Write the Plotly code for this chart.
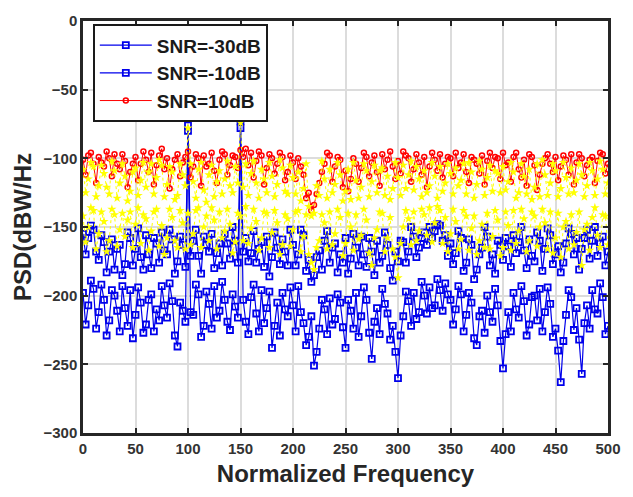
import plotly.graph_objects as go

# Samples at x = 0, 5, 10, ... 500
freq_main = [5 * i for i in range(101)]
# Samples at x = 2.5, 7.5, ... 497.5
freq_mid = [5 * i + 2.5 for i in range(100)]

snr_m30 = [-198, -207, -195, -212, -203, -218, -200, -226, -209, -196,
           -214, -205, -221, -199, -210, -193, -216, -204, -237, -211,
           -80, -214, -199, -222, -206, -193, -211, -203, -225, -208,
           -78, -219, -201, -213, -196, -209, -238, -205, -198, -215,
           -207, -193, -220, -230, -251, -224, -210, -202, -217, -205,
           -238, -211, -198, -215, -203, -246, -209, -195, -213, -222,
           -260, -215, -204, -198, -212, -200, -194, -207, -196, -191,
           -203, -210, -199, -214, -205, -236, -211, -200, -219, -207,
           -253, -212, -198, -216, -204, -221, -200, -195, -212, -206,
           -224, -263, -214, -201, -209, -257, -207, -196, -213, -201,
           -222]
snr_m30_mid = [-221, -189, -224, -192, -229, -196, -211, -193, -222, -231,
               -194, -227, -203, -226, -218, -207, -191, -229, -205, -219,
               -212, -192, -230, -197, -224, -216, -190, -219, -199, -216,
               -203, -228, -192, -226, -220, -197, -222, -229, -210, -194,
               -226, -212, -236, -215, -241, -203, -228, -221, -199, -223,
               -203, -224, -230, -194, -227, -219, -228, -206, -232, -241,
               -229, -197, -222, -217, -190, -213, -209, -188, -211, -199,
               -221, -193, -226, -198, -231, -215, -227, -212, -195, -233,
               -228, -226, -210, -193, -229, -201, -218, -226, -194, -230,
               -240, -233, -196, -225, -232, -220, -224, -210, -191, -228]

snr_m10 = [-155, -158, -152, -174, -161, -168, -181, -163, -177, -158,
           -166, -172, -156, -180, -162, -154, -170, -159, -175, -163,
           -76, -160, -171, -157, -168, -180, -162, -155, -173, -160,
           -73, -158, -169, -176, -161, -157, -172, -165, -159, -178,
           -163, -170, -156, -174, -185, -167, -160, -176, -162, -170,
           -158, -173, -165, -157, -179, -168, -160, -171, -163, -189,
           -175, -161, -168, -157, -165, -154, -150, -153, -149, -156,
           -162, -169, -158, -176, -163, -181, -165, -157, -170, -160,
           -174, -164, -156, -161, -167, -159, -175, -160, -166, -156,
           -170, -183, -162, -155, -158, -166, -152, -160, -171, -157,
           -168]
snr_m10_mid = [-170, -149, -168, -156, -183, -159, -166, -185, -154, -178,
               -151, -181, -170, -158, -176, -167, -152, -184, -157, -179,
               -171, -152, -184, -163, -155, -169, -178, -162, -150, -176,
               -168, -175, -153, -166, -179, -186, -154, -177, -168, -152,
               -178, -152, -182, -190, -172, -181, -153, -165, -183, -176,
               -184, -155, -178, -170, -158, -185, -176, -154, -180, -168,
               -160, -176, -150, -172, -158, -163, -158, -148, -160, -171,
               -177, -153, -182, -159, -188, -170, -150, -178, -184, -163,
               -158, -179, -169, -150, -180, -171, -154, -182, -151, -177,
               -164, -176, -151, -170, -181, -158, -173, -150, -162, -178]

snr_p10 = [-101, -98, -104, -99, -106, -100, -97, -108, -102, -110,
           -99, -104, -101, -96, -105, -93, -100, -108, -97, -103,
           -95, -106, -100, -98, -104, -109, -101, -97, -105, -99,
           -94, -93, -96, -102, -98, -107, -100, -104, -99, -110,
           -103, -100, -112, -125, -134, -118, -104, -98, -106, -101,
           -109, -115, -104, -107, -99, -103, -110, -97, -101, -106,
           -102, -95, -100, -108, -103, -99, -106, -101, -97, -104,
           -100, -96, -103, -110, -99, -104, -98, -102, -107, -100,
           -96, -103, -99, -108, -101, -97, -105, -112, -100, -104,
           -99, -106, -101, -97, -103, -100, -105, -99, -102, -97,
           -104]
snr_p10_mid = [-112, -96, -118, -103, -95, -113, -104, -97, -121, -104,
               -116, -95, -110, -119, -98, -108, -122, -101, -113, -99,
               -114, -97, -120, -106, -96, -118, -95, -112, -98, -107,
               -99, -105, -114, -95, -119, -97, -111, -96, -116, -98,
               -115, -106, -129, -138, -126, -110, -96, -117, -99, -121,
               -124, -100, -117, -96, -113, -98, -120, -108, -95, -115,
               -111, -98, -117, -97, -112, -121, -96, -109, -114, -99,
               -113, -107, -97, -118, -101, -111, -119, -96, -99, -115,
               -105, -117, -96, -114, -120, -99, -123, -104, -97, -110,
               -116, -98, -112, -119, -97, -113, -101, -118, -96, -111]

yellow_hi = [-108, -115, -106, -120, -111, -126, -109, -118, -113, -124,
             -107, -116, -121, -104, -114, -105, -119, -110, -127, -112,
             -78, -117, -108, -123, -112, -128, -109, -115, -120, -106,
             -74, -104, -111, -118, -108, -125, -113, -119, -107, -126,
             -114, -110, -122, -135, -140, -127, -115, -108, -119, -112,
             -124, -130, -116, -121, -109, -117, -125, -107, -113, -122,
             -114, -105, -112, -123, -115, -109, -120, -113, -106, -118,
             -111, -107, -116, -126, -110, -119, -108, -114, -124, -111,
             -106, -117, -110, -125, -113, -108, -121, -128, -112, -118,
             -109, -122, -114, -107, -116, -112, -120, -109, -115, -108,
             -118]
yellow_hi_mid = [-125, -103, -128, -105, -121, -102, -129, -104, -131, -110,
                 -127, -103, -110, -126, -101, -128, -106, -130, -104, -120,
                 -104, -129, -103, -132, -105, -117, -126, -102, -125, -118,
                 -121, -127, -102, -129, -115, -103, -128, -101, -124, -105,
                 -126, -131, -104, -142, -120, -102, -129, -125, -103, -131,
                 -108, -103, -129, -104, -128, -105, -109, -127, -130, -103,
                 -127, -122, -102, -106, -128, -125, -103, -129, -124, -104,
                 -126, -120, -104, -103, -129, -102, -127, -105, -109, -125,
                 -123, -103, -129, -104, -126, -130, -104, -101, -127, -104,
                 -128, -103, -126, -125, -104, -128, -103, -127, -102, -126]

yellow_lo = [-142, -150, -138, -155, -146, -160, -141, -152, -157, -139,
             -148, -162, -144, -153, -137, -149, -158, -143, -165, -147,
             -140, -155, -136, -150, -160, -145, -139, -153, -148, -161,
             -142, -135, -151, -146, -158, -140, -154, -147, -163, -144,
             -152, -138, -157, -170, -181, -160, -147, -139, -155, -143,
             -162, -150, -141, -156, -145, -178, -152, -140, -158, -166,
             -187, -150, -144, -139, -153, -141, -136, -147, -138, -143,
             -155, -146, -159, -142, -151, -170, -148, -140, -157, -145,
             -165, -149, -138, -153, -144, -160, -142, -150, -147, -139,
             -158, -172, -146, -141, -154, -178, -148, -143, -156, -141,
             -163]
yellow_lo_mid = [-161, -136, -166, -139, -168, -137, -164, -140, -145, -165,
                 -136, -141, -167, -139, -164, -170, -137, -160, -138, -166,
                 -163, -138, -165, -142, -136, -166, -158, -137, -169, -140,
                 -160, -162, -137, -167, -139, -165, -138, -170, -141, -164,
                 -139, -168, -141, -176, -165, -141, -166, -163, -137, -171,
                 -140, -167, -159, -137, -169, -158, -139, -168, -143, -172,
                 -162, -138, -163, -160, -137, -156, -161, -135, -162, -168,
                 -137, -166, -138, -167, -142, -160, -165, -166, -138, -171,
                 -139, -167, -162, -137, -168, -139, -164, -137, -166, -169,
                 -140, -150, -166, -163, -139, -152, -167, -136, -165, -142]

x_ticks = [0, 50, 100, 150, 200, 250, 300, 350, 400, 450, 500]
y_ticks = [-300, -250, -200, -150, -100, -50, 0]


def merge(main_vals, mid_vals):
    xs, ys = [], []
    for i in range(len(main_vals)):
        xs.append(freq_main[i]); ys.append(main_vals[i])
        if i < len(mid_vals):
            xs.append(freq_mid[i]); ys.append(mid_vals[i])
    return xs, ys


BLUE = "rgb(0,0,235)"
RED = "rgb(255,0,0)"
YELLOW = "rgb(255,255,0)"
FONT = "Liberation Sans, Arial, sans-serif"

fig = go.Figure()

xa, ya = merge(snr_m30, snr_m30_mid)
xb, yb = merge(snr_m10, snr_m10_mid)
xc, yc = merge(snr_p10, snr_p10_mid)
xh, yh = merge(yellow_hi, yellow_hi_mid)
xl, yl = merge(yellow_lo, yellow_lo_mid)

fig.add_trace(go.Scatter(
    x=xa, y=ya, mode="lines+markers", name="SNR=-30dB",
    line=dict(color=BLUE, width=1.2),
    marker=dict(symbol="square-open", size=6, color=BLUE, line=dict(width=1.8)),
    legendgroup="a"))
fig.add_trace(go.Scatter(
    x=xb, y=yb, mode="lines+markers", name="SNR=-10dB",
    line=dict(color=BLUE, width=1.2),
    marker=dict(symbol="square-open", size=6, color=BLUE, line=dict(width=1.8)),
    legendgroup="b"))
fig.add_trace(go.Scatter(
    x=xc, y=yc, mode="lines+markers", name="SNR=10dB",
    line=dict(color=RED, width=1),
    marker=dict(symbol="circle-open", size=5, color=RED, line=dict(width=1.5)),
    legendgroup="c"))
fig.add_trace(go.Scatter(
    x=xl, y=yl, mode="lines+markers", showlegend=False,
    line=dict(color=YELLOW, width=1, dash="dot"),
    marker=dict(symbol="star", size=7, color=YELLOW)))
fig.add_trace(go.Scatter(
    x=xh, y=yh, mode="lines+markers", showlegend=False,
    line=dict(color=YELLOW, width=1, dash="dot"),
    marker=dict(symbol="star", size=7, color=YELLOW)))

axis_common = dict(
    showline=True, linecolor="#262626", linewidth=2.5, mirror="ticks",
    ticks="inside", ticklen=5, tickwidth=2, tickcolor="#262626",
    showgrid=True, gridcolor="#dcdcdc", gridwidth=2,
    zeroline=False,
    tickfont=dict(family=FONT, size=15, color="#333333", weight="bold"),
)

fig.update_xaxes(range=[0, 500], tickvals=x_ticks,
                 title=dict(text="Normalized Frequency", standoff=10,
                            font=dict(family=FONT, size=24, color="#262626",
                                      weight="bold")),
                 **axis_common)
fig.update_yaxes(range=[-300, 0], tickvals=y_ticks,
                 title=dict(text="PSD(dBW/Hz", standoff=6,
                            font=dict(family=FONT, size=24, color="#262626",
                                      weight="bold")),
                 **axis_common)

fig.update_layout(
    width=633, height=497,
    margin=dict(l=83, r=14, t=13, b=64),
    paper_bgcolor="white", plot_bgcolor="white",
    showlegend=True,
    legend=dict(x=0.0187, y=0.992, xanchor="left", yanchor="top",
                bgcolor="white", bordercolor="#1a1a1a", borderwidth=2,
                font=dict(family=FONT, size=19, color="#1a1a1a", weight="bold"),
                itemwidth=52, tracegroupgap=0),
)

fig.write_html("out.html")
